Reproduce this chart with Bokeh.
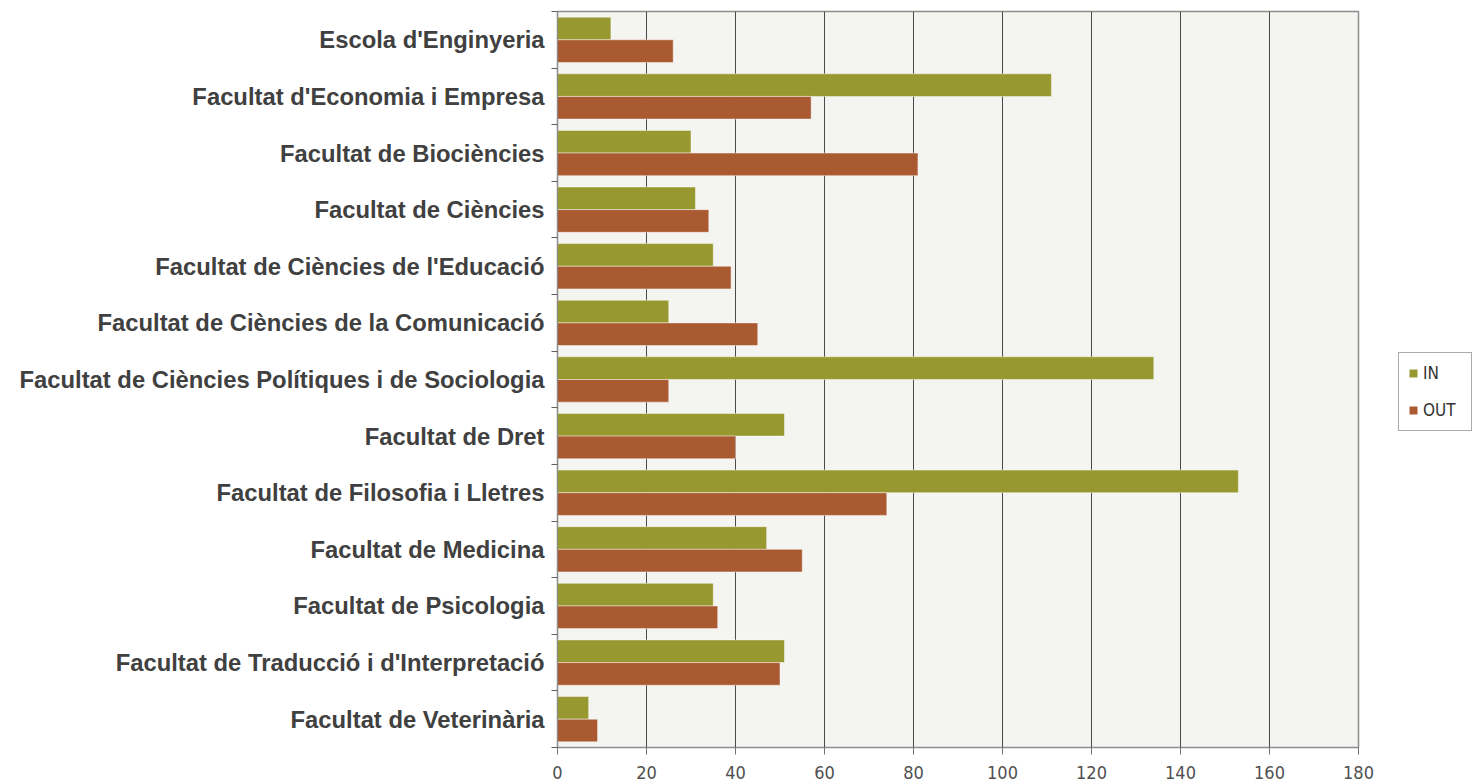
from bokeh.plotting import figure
from bokeh.layouts import row
from bokeh.models import (Range1d, FixedTicker, Legend, LegendItem, ColumnDataSource)
from bokeh.embed import file_html
from bokeh.resources import INLINE

categories = [
    "Escola d'Enginyeria",
    "Facultat d'Economia i Empresa",
    "Facultat de Biociències",
    "Facultat de Ciències",
    "Facultat de Ciències de l'Educació",
    "Facultat de Ciències de la Comunicació",
    "Facultat de Ciències Polítiques i de Sociologia",
    "Facultat de Dret",
    "Facultat de Filosofia i Lletres",
    "Facultat de Medicina",
    "Facultat de Psicologia",
    "Facultat de Traducció i d'Interpretació",
    "Facultat de Veterinària",
]
in_values = [12, 111, 30, 31, 35, 25, 134, 51, 153, 47, 35, 51, 7]
out_values = [26, 57, 81, 34, 39, 45, 25, 40, 74, 55, 36, 50, 9]
x_ticks = [0, 20, 40, 60, 80, 100, 120, 140, 160, 180]
series_names = ["IN", "OUT"]
series_colors = ["#97982F", "#AA5A31"]

n = len(categories)
centers = [i + 0.5 for i in range(n)]
bounds = [float(i) for i in range(n + 1)]

src = ColumnDataSource(dict(
    y_in=[c - 0.2 for c in centers],
    y_out=[c + 0.2 for c in centers],
    v_in=in_values,
    v_out=out_values,
))

H = 784
p = figure(width=1380, height=H, output_backend="svg", toolbar_location=None,
           x_range=Range1d(0, 180), y_range=Range1d(n, 0),
           min_border_left=557, min_border_top=11, min_border_bottom=37,
           min_border_right=22)
p.background_fill_color = "#F4F4F0"
p.border_fill_color = "white"
p.outline_line_color = "#8C8C8C"
p.outline_line_width = 1.5

p.hbar(y="y_in", right="v_in", left=0, height=0.4, source=src,
       fill_color=series_colors[0], line_color="white", line_alpha=0.45, line_width=1)
p.hbar(y="y_out", right="v_out", left=0, height=0.4, source=src,
       fill_color=series_colors[1], line_color="white", line_alpha=0.45, line_width=1)

# x axis
p.xaxis.ticker = FixedTicker(ticks=x_ticks)
p.xaxis.major_label_text_font = "DejaVu Sans Condensed"
p.xaxis.major_label_text_font_size = "18px"
p.xaxis.major_label_text_color = "#505050"
p.xaxis.major_label_standoff = 11
p.xaxis.major_tick_in = 0
p.xaxis.major_tick_out = 7
p.xaxis.minor_tick_line_color = None
p.xaxis.axis_line_color = "#8C8C8C"
p.xaxis.major_tick_line_color = "#707070"

# y axis
p.yaxis.ticker = FixedTicker(ticks=centers, minor_ticks=bounds)
p.yaxis.major_label_overrides = {c: lab for c, lab in zip(centers, categories)}
p.yaxis.major_label_text_font = "Liberation Sans"
p.yaxis.major_label_text_font_style = "bold"
p.yaxis.major_label_text_font_size = "23.8px"
p.yaxis.major_label_text_color = "#404040"
p.yaxis.major_label_standoff = 7
p.yaxis.major_tick_in = 0
p.yaxis.major_tick_out = 0
p.yaxis.minor_tick_in = 0
p.yaxis.minor_tick_out = 6
p.yaxis.minor_tick_line_color = "#606060"
p.yaxis.axis_line_color = "#8C8C8C"

p.xgrid.ticker = FixedTicker(ticks=x_ticks)
p.xgrid.grid_line_color = "#4A4A4A"
p.xgrid.grid_line_width = 1
p.ygrid.grid_line_color = None

# legend panel: a separate small figure so the legend can sit outside the plot area.
# Its renderers share the data but use zero bar height, so only the legend swatches show.
q = figure(width=95, height=H, output_backend="svg", toolbar_location=None,
           x_axis_location=None, y_axis_location=None,
           x_range=Range1d(0, 180), y_range=Range1d(n, 0),
           min_border=0)
q.outline_line_color = None
q.background_fill_color = "white"
q.border_fill_color = "white"
q.xgrid.grid_line_color = None
q.ygrid.grid_line_color = None
items = []
for name, col, ycol, vcol in zip(series_names, series_colors, ["y_in", "y_out"], ["v_in", "v_out"]):
    r = q.hbar(y=ycol, right=vcol, left=0, height=0, source=src,
               fill_color=col, line_color=None)
    items.append(LegendItem(label=name, renderers=[r]))

legend = Legend(items=items, location=(18, 316), orientation="vertical")
legend.label_text_font = "DejaVu Sans Condensed"
legend.label_text_font_size = "17px"
legend.label_text_color = "#333333"
legend.glyph_width = 10
legend.glyph_height = 10
legend.spacing = 15
legend.padding = 9
legend.margin = 0
legend.border_line_color = "#555555"
legend.border_line_width = 1.5
legend.background_fill_color = "white"
legend.label_standoff = 5
legend.label_height = 22
legend.label_width = 39
q.add_layout(legend, "center")

layout = row(p, q, spacing=0)
open("out.html", "w").write(file_html(layout, INLINE))
